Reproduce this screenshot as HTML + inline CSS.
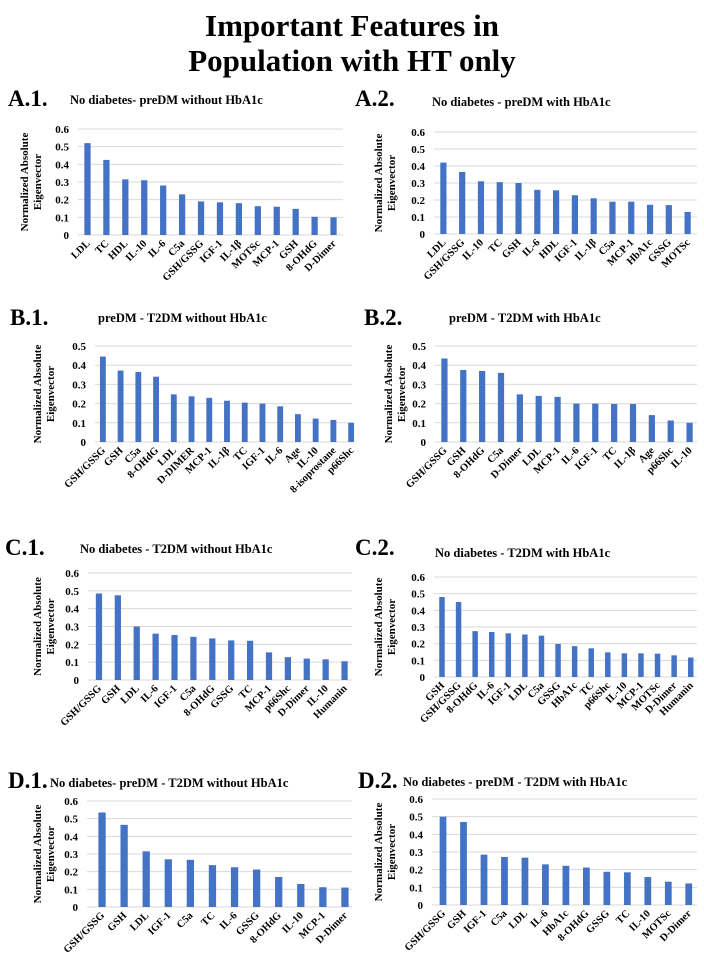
<!DOCTYPE html>
<html><head><meta charset="utf-8"><style>
html,body{margin:0;padding:0;background:#fff}
svg{display:block;font-family:"Liberation Serif",serif;font-weight:bold}
svg text{font-family:"Liberation Serif",serif;font-weight:bold}
</style></head><body>
<svg id="fig" width="704" height="967" viewBox="0 0 704 967" font-family="Liberation Serif, serif" font-weight="bold">
<text x="352" y="36" text-anchor="middle" font-size="31">Important Features in</text>
<text x="352" y="71" text-anchor="middle" font-size="31">Population with HT only</text>
</svg>
<script>
const catsA1=["LDL","TC","HDL","IL-10","IL-6","C5a","GSH/GSSG","IGF-1","IL-1β","MOTSc","MCP-1","GSH","8-OHdG","D-Dimer"];
const valsA1=[0.52,0.425,0.315,0.31,0.28,0.23,0.19,0.185,0.18,0.163,0.16,0.148,0.103,0.1];
const catsA2=["LDL","GSH/GSSG","IL-10","TC","GSH","IL-6","HDL","IGF-1","IL-1β","C5a","MCP-1","HbA1c","GSSG","MOTSc"];
const valsA2=[0.42,0.365,0.31,0.305,0.3,0.26,0.257,0.228,0.21,0.19,0.19,0.172,0.17,0.13];
const catsB1=["GSH/GSSG","GSH","C5a","8-OHdG","LDL","D-DIMER","MCP-1","IL-1β","TC","IGF-1","IL-6","Age","IL-10","8-isoprostane","p66Shc"];
const valsB1=[0.445,0.372,0.365,0.34,0.248,0.238,0.23,0.215,0.205,0.2,0.186,0.145,0.122,0.115,0.1];
const catsB2=["GSH/GSSG","GSH","8-OHdG","C5a","D-Dimer","LDL","MCP-1","IL-6","IGF-1","TC","IL-1β","Age","p66Shc","IL-10"];
const valsB2=[0.435,0.375,0.37,0.36,0.248,0.24,0.235,0.2,0.2,0.198,0.198,0.14,0.112,0.1];
const catsC1=["GSH/GSSG","GSH","LDL","IL-6","IGF-1","C5a","8-OHdG","GSSG","TC","MCP-1","p66Shc","D-Dimer","IL-10","Humanin"];
const valsC1=[0.485,0.475,0.3,0.26,0.252,0.242,0.233,0.222,0.22,0.155,0.128,0.12,0.116,0.105];
const catsC2=["GSH","GSH/GSSG","8-OHdG","IL-6","IGF-1","LDL","C5a","GSSG","HbA1c","TC","p66Shc","IL-10","MCP-1","MOTSc","D-Dimer","Humanin"];
const valsC2=[0.48,0.45,0.275,0.27,0.262,0.255,0.248,0.198,0.185,0.172,0.148,0.142,0.142,0.14,0.13,0.117];
const catsD1=["GSH/GSSG","GSH","LDL","IGF-1","C5a","TC","IL-6","GSSG","8-OHdG","IL-10","MCP-1","D-Dimer"];
const valsD1=[0.535,0.465,0.315,0.27,0.267,0.237,0.225,0.212,0.17,0.13,0.112,0.11];
const catsD2=["GSH/GSSG","GSH","IGF-1","C5a","LDL","IL-6","HbA1c","8-OHdG","GSSG","TC","IL-10","MOTSc","D-Dimer"];
const valsD2=[0.5,0.47,0.285,0.272,0.268,0.23,0.222,0.212,0.188,0.185,0.158,0.132,0.122];
const ticks6=["0","0.1","0.2","0.3","0.4","0.5","0.6"];
const ticks5=["0","0.1","0.2","0.3","0.4","0.5"];

const NS="http://www.w3.org/2000/svg";
const svg=document.getElementById('fig');
function mk(tag,attrs,parent,text){const e=document.createElementNS(NS,tag);for(const k in attrs)e.setAttribute(k,attrs[k]);if(text!==undefined)e.textContent=text;(parent||svg).appendChild(e);return e;}

const panels=[
 {id:"a1",label:"A.1.",lx:8,ly:106,title:"No diabetes- preDM without HbA1c",tx:70,ty:104,cats:catsA1,vals:valsA1,ticks:ticks6,top:129,zero:235,gx:78,x0:78,x1:343,gx1:343,ylx:31},
 {id:"a2",label:"A.2.",lx:355,ly:106,title:"No diabetes - preDM with HbA1c",tx:432,ty:106,cats:catsA2,vals:valsA2,ticks:ticks6,top:132,zero:234,gx:434,x0:434,x1:697,gx1:697,ylx:385},
 {id:"b1",label:"B.1.",lx:10,ly:325,title:"preDM - T2DM without HbA1c",tx:98,ty:322,cats:catsB1,vals:valsB1,ticks:ticks5,top:346,zero:442,gx:95,x0:94,x1:360,gx1:352,ylx:44},
 {id:"b2",label:"B.2.",lx:364,ly:325,title:"preDM - T2DM with HbA1c",tx:449,ty:322,cats:catsB2,vals:valsB2,ticks:ticks5,top:346,zero:442,gx:435,x0:435,x1:699,gx1:697,ylx:395},
 {id:"c1",label:"C.1.",lx:5,ly:555,title:"No diabetes - T2DM without HbA1c",tx:80,ty:553,cats:catsC1,vals:valsC1,ticks:ticks6,top:573,zero:680,gx:88,x0:89.5,x1:354,gx1:352,ylx:44},
 {id:"c2",label:"C.2.",lx:355,ly:555,title:"No diabetes - T2DM with HbA1c",tx:435,ty:557,cats:catsC2,vals:valsC2,ticks:ticks6,top:577,zero:677,gx:434,x0:433.7,x1:699,gx1:697,ylx:385},
 {id:"d1",label:"D.1.",lx:8,ly:788,title:"No diabetes- preDM - T2DM without HbA1c",tx:50,ty:787,cats:catsD1,vals:valsD1,ticks:ticks6,top:801,zero:907,gx:87,x0:91,x1:356,gx1:352,ylx:44},
 {id:"d2",label:"D.2.",lx:358,ly:788,title:"No diabetes - preDM - T2DM with HbA1c",tx:403,ty:786,cats:catsD2,vals:valsD2,ticks:ticks6,top:799,zero:905,gx:432,x0:432.8,x1:699,gx1:697,ylx:385}
];

panels.forEach(p=>{
 const g=mk('g',{});
 
 
 const lab=mk('text',{x:p.lx,y:p.ly,'font-size':23},g,p.label);
 
 
 const tt=mk('text',{x:p.tx,y:p.ty,'font-size':12.5},g,p.title);
 
 
 const maxV=(p.ticks.length-1)*0.1;
 const y=v=>p.zero-(v/maxV)*(p.zero-p.top);
 p.ticks.forEach((t,i)=>{
  const v=parseFloat(t);
  const gl=mk('line',{x1:p.gx,x2:p.gx1,y1:y(v),y2:y(v),stroke:'#d9d9d9','stroke-width':1},g);
  
  
  const tl=mk('text',{x:p.gx-9,y:y(v)+4,'font-size':11,'text-anchor':'end'},g,t);
  
  
 });
 const n=p.cats.length, band=(p.x1-p.x0)/n, bw=Math.max(5,band*0.33);
 p.vals.forEach((v,i)=>{
  const cx=p.x0+(i+0.5)*band;
  const r=mk('rect',{x:cx-bw/2,y:y(v),width:bw,height:p.zero-y(v),fill:'#4472c4'},g);
  
  
  const xl=mk('text',{x:cx+3,y:p.zero+9,'font-size':10.5,'text-anchor':'end',transform:`rotate(-45 ${cx+3} ${p.zero+9})`},g,p.cats[i]);
  
  
 });
 const cy=(p.top+p.zero)/2;
 const yt=mk('text',{x:p.ylx,y:cy,'font-size':11,'text-anchor':'middle',transform:`rotate(-90 ${p.ylx} ${cy})`},g);
 
 
 mk('tspan',{x:p.ylx,dy:-3},yt,'Normalized Absolute');
 mk('tspan',{x:p.ylx,dy:13},yt,'Eigenvector');
});
</script>
</body></html>
